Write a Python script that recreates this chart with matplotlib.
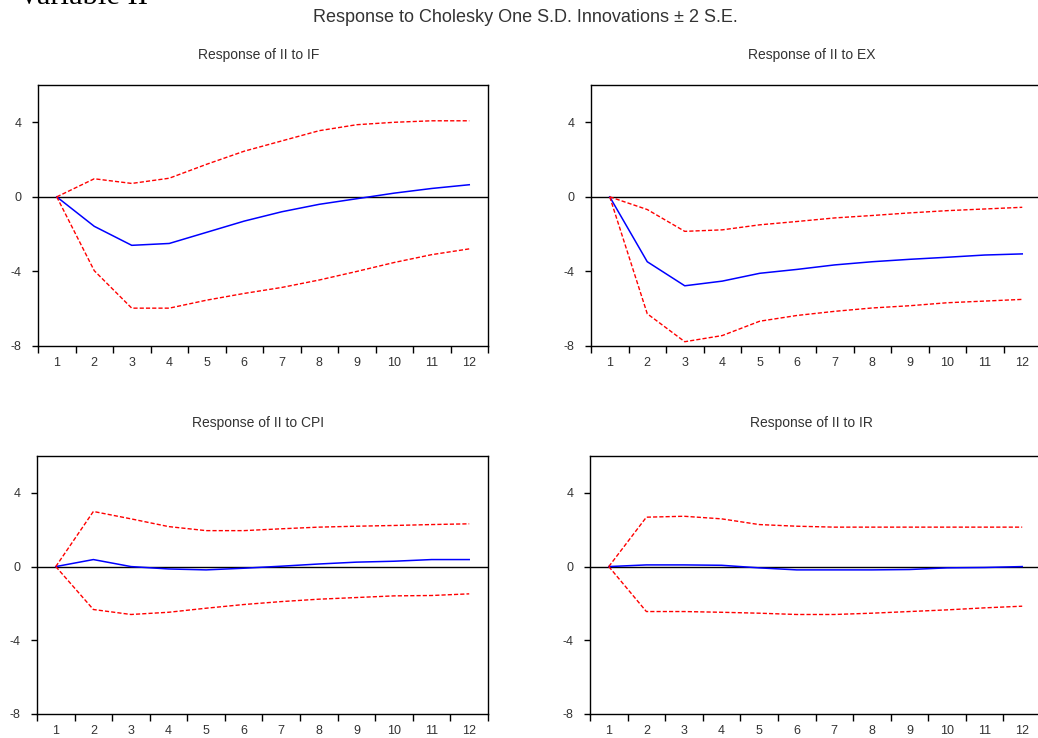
import matplotlib
matplotlib.use("Agg")
import matplotlib.pyplot as plt
import numpy as np

plt.rcParams["font.family"] = ["Liberation Sans", "DejaVu Sans"]
plt.rcParams["axes.unicode_minus"] = False

# impulse response values
periods = list(range(1, 13))

if_resp  = [0, -1.58, -2.6, -2.5, -1.9, -1.3, -0.8, -0.4, -0.1, 0.2, 0.45, 0.65]
if_upper = [0, 0.97, 0.72, 1.0, 1.75, 2.45, 3.0, 3.55, 3.87, 4.0, 4.08, 4.08]
if_lower = [0, -3.96, -5.97, -5.97, -5.54, -5.18, -4.86, -4.46, -4.0, -3.52, -3.1, -2.79]

ex_resp  = [0, -3.48, -4.77, -4.52, -4.1, -3.89, -3.65, -3.48, -3.35, -3.24, -3.12, -3.06]
ex_upper = [0, -0.68, -1.85, -1.77, -1.5, -1.32, -1.13, -1.0, -0.86, -0.74, -0.65, -0.56]
ex_lower = [0, -6.27, -7.77, -7.44, -6.67, -6.36, -6.14, -5.96, -5.84, -5.68, -5.59, -5.5]

cpi_resp  = [0, 0.38, 0.0, -0.13, -0.18, -0.09, 0.02, 0.14, 0.24, 0.29, 0.38, 0.38]
cpi_upper = [0, 2.99, 2.59, 2.17, 1.95, 1.95, 2.05, 2.14, 2.19, 2.23, 2.28, 2.32]
cpi_lower = [0, -2.33, -2.6, -2.48, -2.26, -2.06, -1.9, -1.77, -1.68, -1.59, -1.57, -1.48]

ir_resp  = [0, 0.09, 0.09, 0.07, -0.07, -0.18, -0.18, -0.18, -0.16, -0.07, -0.05, 0.0]
ir_upper = [0, 2.68, 2.73, 2.59, 2.28, 2.19, 2.14, 2.14, 2.14, 2.14, 2.14, 2.14]
ir_lower = [0, -2.44, -2.44, -2.48, -2.53, -2.6, -2.6, -2.53, -2.44, -2.35, -2.24, -2.15]

titles = ["Response of II to IF", "Response of II to EX",
          "Response of II to CPI", "Response of II to IR"]
responses = [if_resp, ex_resp, cpi_resp, ir_resp]
uppers = [if_upper, ex_upper, cpi_upper, ir_upper]
lowers = [if_lower, ex_lower, cpi_lower, ir_lower]

W, H = 1038, 738
fig = plt.figure(figsize=(W / 100, H / 100), dpi=100)

# panel boxes in pixels: left, top, right, bottom
boxes = [(38, 85, 488, 346), (591, 85, 1041, 346),
         (37, 456, 488, 714), (590, 456, 1041, 714)]
title_y = [55, 55, 423, 423]

txt_col = "#333333"

for i in range(4):
    l, t, r, b = boxes[i]
    ax = fig.add_axes([l / W, 1 - b / H, (r - l) / W, (b - t) / H])
    ax.plot(periods, responses[i], color="blue", lw=1.1)
    ax.plot(periods, uppers[i], color="red", lw=1.0, ls=(0, (3, 1.5)))
    ax.plot(periods, lowers[i], color="red", lw=1.0, ls=(0, (3, 1.5)))
    ax.axhline(0, color="black", lw=1.0, zorder=1)
    ax.set_xlim(0.5, 12.5)
    ax.set_ylim(-8, 6)
    ax.set_yticks([-8, -4, 0, 4])
    ax.set_xticks(periods)
    ax.set_xticks(np.arange(0.5, 13, 1), minor=True)
    ax.tick_params(axis="x", which="major", length=0, pad=8, labelsize=9, labelcolor=txt_col)
    ax.tick_params(axis="x", which="minor", length=5, width=1, direction="out")
    ax.tick_params(axis="y", length=4, width=1, direction="out", pad=8, labelsize=9, labelcolor=txt_col)
    for s in ax.spines.values():
        s.set_linewidth(1.0)
        s.set_color("black")
    fig.text(((l + r) / 2 - 4) / W, 1 - title_y[i] / H, titles[i],
             ha="center", va="center", fontsize=10, color=txt_col)

fig.text(525 / W, 1 - 17 / H, "Response to Cholesky One S.D. Innovations \u00b1 2 S.E.",
         ha="center", va="center", fontsize=13, color=txt_col)
# header left over from the page above, cut by the top edge as in the source
fig.text(18 / W, 1 - 4 / H, "Variable II", ha="left", va="baseline",
         fontsize=22, family=["Liberation Serif", "DejaVu Serif"], color="black")

fig.savefig("out.png", dpi=100)
